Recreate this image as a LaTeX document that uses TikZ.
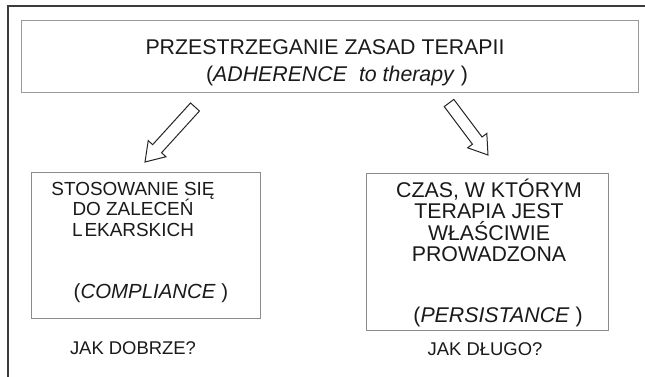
\documentclass[tikz,border=0pt]{standalone}
\usepackage{fontspec}
\setmainfont{Liberation Sans}
\usetikzlibrary{calc}
\definecolor{framec}{HTML}{3C3C3C}
\definecolor{boxc}{HTML}{8C8C8C}
\definecolor{topc}{HTML}{9A9A9A}
\definecolor{txt}{HTML}{1A1A1A}
\tikzset{
  boxnode/.style={draw=boxc, line width=1.1bp, inner sep=0pt, anchor=north west},
  txtbase/.style={anchor=base, inner sep=0pt, text=txt},
  txtA/.style={txtbase, font=\fontsize{21.4}{21}\selectfont},
  txtL/.style={txtbase, font=\fontsize{19}{19}\selectfont},
  lbl/.style={txtbase, font=\fontsize{18.5}{18}\selectfont},
  harrow/.style={draw=black!85, line width=1bp, fill=white, line join=miter}
}
\newcommand{\hollowarrow}[3]{% #1 tip, #2 tail, #3 name
  \coordinate (#3h) at ($(#1)!18bp!(#2)$);
  \draw[harrow] (#1) -- ($(#3h)!12bp!90:(#2)$) -- ($(#3h)!6bp!90:(#2)$)
    -- ($(#2)!6bp!-90:(#1)$) -- ($(#2)!6bp!90:(#1)$)
    -- ($(#3h)!6bp!-90:(#2)$) -- ($(#3h)!12bp!-90:(#2)$) -- cycle;
}
\begin{document}
\begin{tikzpicture}[x=1bp,y=-1bp]
\useasboundingbox[fill=white] (0,0) rectangle (645,376);
% outer frame
\coordinate (fb) at (8,377);
\coordinate (ft) at (8,6);
\coordinate (fr) at (646,6);
\draw[draw=framec, line width=1.6bp] (fb) -- (ft) -- (fr);
% top box
\node[boxnode, draw=topc, line width=1.3bp, minimum width=617bp, minimum height=72bp] (top) at (21,20) {};
\node[txtA] (t1) at (325,54) {PRZESTRZEGANIE ZASAD TERAPII};
\node[txtA] (t2) at (337,81) {(\textit{ADHERENCE}\ \ \textit{to therapy} )};
% left box
\node[boxnode, minimum width=229bp, minimum height=146bp] (lbox) at (31,172) {};
\node[txtL] (l1) at (133,195) {STOSOWANIE SIĘ};
\node[txtL] (l2) at (133,215.5) {DO ZALECEŃ};
\node[txtL] (l3) at (133,236) {L\kern2bp EKARSKICH};
\node[txtL, font=\fontsize{20.5}{20}\selectfont] (l4) at (151,298) {(\textit{COMPLIANCE} )};
\node[lbl] (lq) at (133,354) {JAK DOBRZE?};
% right box
\node[boxnode, minimum width=242bp, minimum height=157bp] (rbox) at (366,173) {};
\node[txtA] (r1) at (489,197) {CZAS, W KTÓRYM};
\node[txtA] (r2) at (489,218.5) {TERAPIA JEST};
\node[txtA] (r3) at (489,240) {WŁAŚCIWIE};
\node[txtA] (r4) at (489,261.5) {PROWADZONA};
\node[txtA] (r5) at (498,322) {(\textit{PERSISTANCE} )};
\node[lbl] (rq) at (485,355) {JAK DŁUGO?};
% arrows
\coordinate (atip) at (145,162);
\coordinate (atail) at (195,107);
\coordinate (btip) at (488,155);
\coordinate (btail) at (449,103);
\hollowarrow{atip}{atail}{a}
\hollowarrow{btip}{btail}{b}
\end{tikzpicture}
\end{document}
